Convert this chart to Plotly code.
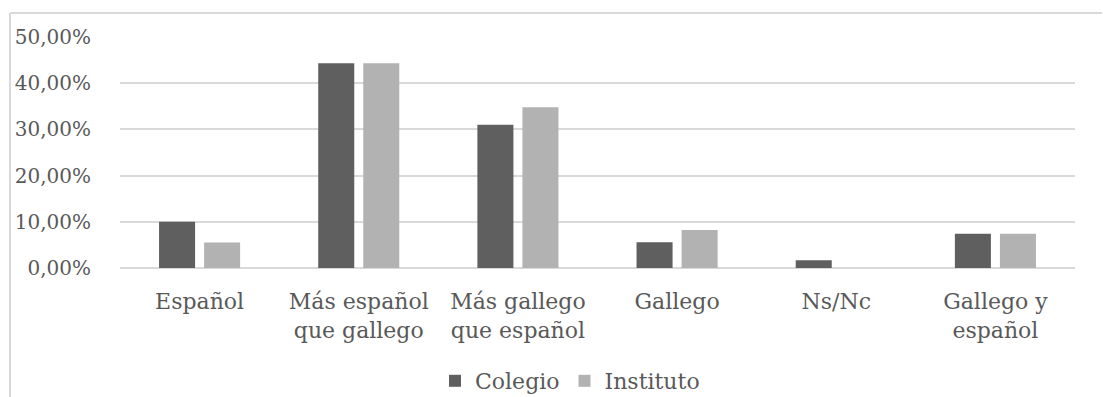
import plotly.graph_objects as go

categories = ["Español", "Más español<br>que gallego", "Más gallego<br>que español",
              "Gallego", "Ns/Nc", "Gallego y<br>español"]
colegio = [0.100, 0.443, 0.310, 0.056, 0.017, 0.074]
instituto = [0.055, 0.443, 0.348, 0.082, 0.0, 0.074]
tick_vals = [0, 0.1, 0.2, 0.3, 0.4, 0.5]
tick_text = ["0,00%", "10,00%", "20,00%", "30,00%", "40,00%", "50,00%"]

FONT = "DejaVu Serif"
TXT = "#595959"

fig = go.Figure()
fig.add_trace(go.Bar(name="Colegio", x=categories, y=colegio,
                     marker=dict(color="#5f5f5f", line=dict(width=0))))
fig.add_trace(go.Bar(name="Instituto", x=categories, y=instituto,
                     marker=dict(color="#b2b2b2", line=dict(width=0))))

W, H = 1103, 397
L, R, T, B = 120, 1075, 37, 268

def px(x):
    return (x - L) / (R - L)

def py(y):
    return (B - y) / (B - T)

shapes = [
    dict(type="line", xref="paper", yref="paper", x0=px(10), x1=px(1102), y0=py(13), y1=py(13),
         line=dict(color="#d9d9d9", width=2)),
    dict(type="line", xref="paper", yref="paper", x0=px(10), x1=px(10), y0=py(13), y1=py(400),
         line=dict(color="#d9d9d9", width=2)),
]

fig.update_layout(
    width=W, height=H,
    margin=dict(l=L, r=W - R, t=T, b=H - B, pad=0, autoexpand=False),
    paper_bgcolor="white", plot_bgcolor="white",
    barmode="group", bargap=0.434, bargroupgap=0.2,
    font=dict(family=FONT, size=20, color=TXT),
    showlegend=True,
    legend=dict(orientation="h", x=px(570), xanchor="center", y=py(381), yanchor="middle",
                font=dict(family=FONT, size=22, color=TXT), traceorder="normal",
                itemwidth=30),
    shapes=shapes,
    xaxis=dict(showgrid=False, showline=False, ticks="", tickfont=dict(size=22, color=TXT),
               ticklabelstandoff=18, automargin=False),
    yaxis=dict(range=[0, 0.5], tickvals=tick_vals, ticktext=tick_text, showgrid=True,
               gridcolor="#d9d9d9", gridwidth=2, zeroline=True, zerolinecolor="#d9d9d9",
               zerolinewidth=2, showline=False, ticks="", tickfont=dict(size=20, color=TXT),
               ticklabelstandoff=28, automargin=False),
)

fig.write_html("out.html")
